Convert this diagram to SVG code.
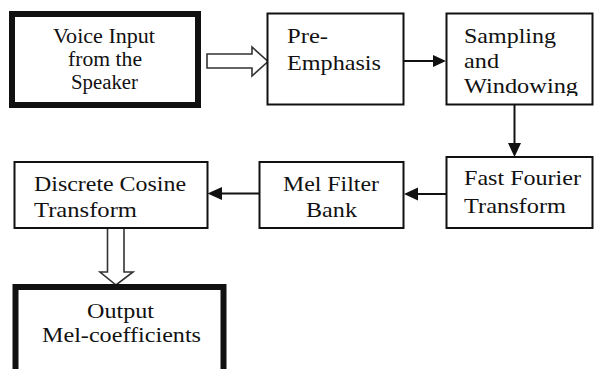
<svg xmlns="http://www.w3.org/2000/svg" width="594" height="369" viewBox="0 0 594 369">
  <style>
    .box { fill: #fff; stroke: #111; stroke-width: 2; }
    .thick { fill: #fff; stroke: #111; stroke-width: 6; }
    .lbl { font-family: 'Liberation Serif', 'Times New Roman', serif; font-size: 22px; fill: #111; }
    .wire { stroke: #111; stroke-width: 2; fill: none; }
    .head { fill: #111; stroke: none; }
    .hollow { fill: #fff; stroke: #333; stroke-width: 1.6; stroke-linejoin: miter; }
  </style>
  <defs>
    <clipPath id="samplingClip">
      <rect x="446" y="13" width="148" height="83"/>
    </clipPath>
  </defs>
  <rect width="594" height="369" fill="#fff"/>

  <g id="connectors">
    <!-- block arrow: input to pre-emphasis -->
    <polygon class="hollow" points="207,54 252,54 252,47 268,61.5 252,76 252,68 207,68"/>
    <!-- pre-emphasis to sampling -->
    <line class="wire" x1="404" y1="61" x2="434" y2="61"/>
    <polygon class="head" points="433,55 446,61 433,67"/>
    <!-- sampling to FFT -->
    <line class="wire" x1="514.5" y1="105" x2="514.5" y2="144"/>
    <polygon class="head" points="508,143 514.5,157 521,143"/>
    <!-- FFT to mel filter bank -->
    <line class="wire" x1="446" y1="194" x2="417" y2="194"/>
    <polygon class="head" points="418,187.5 404,194 418,200.5"/>
    <!-- mel filter bank to DCT -->
    <line class="wire" x1="259" y1="193.5" x2="221" y2="193.5"/>
    <polygon class="head" points="222,187 207.5,193.5 222,200"/>
    <!-- block arrow: DCT to output -->
    <polygon class="hollow" points="107.5,228 124,228 124,272 133,272 116,285 100,272 107.5,272"/>
  </g>

  <g id="voice-input">
    <rect class="thick" x="12" y="14" width="186" height="91"/>
    <text class="lbl" x="53" y="43" textLength="102" lengthAdjust="spacingAndGlyphs" font-size="20" style="font-size:20px">Voice Input</text>
    <text class="lbl" x="68" y="65.5" textLength="74" lengthAdjust="spacingAndGlyphs" style="font-size:20px">from the</text>
    <text class="lbl" x="71" y="89" textLength="67" lengthAdjust="spacingAndGlyphs" style="font-size:20px">Speaker</text>
  </g>

  <g id="pre-emphasis">
    <rect class="box" x="267.5" y="13.5" width="136" height="91"/>
    <text class="lbl" x="287" y="43" textLength="41" lengthAdjust="spacingAndGlyphs">Pre-</text>
    <text class="lbl" x="287" y="70" textLength="94" lengthAdjust="spacingAndGlyphs">Emphasis</text>
  </g>

  <g id="sampling-windowing">
    <rect class="box" x="446.5" y="13.5" width="146" height="91"/>
    <g clip-path="url(#samplingClip)">
      <text class="lbl" x="464" y="43" textLength="92" lengthAdjust="spacingAndGlyphs">Sampling</text>
      <text class="lbl" x="464" y="68" textLength="35" lengthAdjust="spacingAndGlyphs">and</text>
      <text class="lbl" x="464" y="93" textLength="114" lengthAdjust="spacingAndGlyphs">Windowing</text>
    </g>
  </g>

  <g id="fft">
    <rect class="box" x="446.5" y="157" width="146" height="71"/>
    <text class="lbl" x="464" y="185" textLength="117" lengthAdjust="spacingAndGlyphs">Fast Fourier</text>
    <text class="lbl" x="464" y="212.5" textLength="102" lengthAdjust="spacingAndGlyphs">Transform</text>
  </g>

  <g id="mel-filter-bank">
    <rect class="box" x="259.5" y="162" width="144" height="66"/>
    <text class="lbl" x="283" y="191" textLength="96" lengthAdjust="spacingAndGlyphs">Mel Filter</text>
    <text class="lbl" x="306" y="217" textLength="51" lengthAdjust="spacingAndGlyphs">Bank</text>
  </g>

  <g id="dct">
    <rect class="box" x="14.5" y="162" width="193" height="66"/>
    <text class="lbl" x="34" y="191" textLength="152" lengthAdjust="spacingAndGlyphs">Discrete Cosine</text>
    <text class="lbl" x="34" y="217" textLength="103" lengthAdjust="spacingAndGlyphs">Transform</text>
  </g>

  <g id="output">
    <rect class="thick" x="15.5" y="287" width="208" height="100"/>
    <text class="lbl" x="87" y="318" textLength="67" lengthAdjust="spacingAndGlyphs">Output</text>
    <text class="lbl" x="42" y="342" textLength="159" lengthAdjust="spacingAndGlyphs">Mel-coefficients</text>
  </g>
</svg>
